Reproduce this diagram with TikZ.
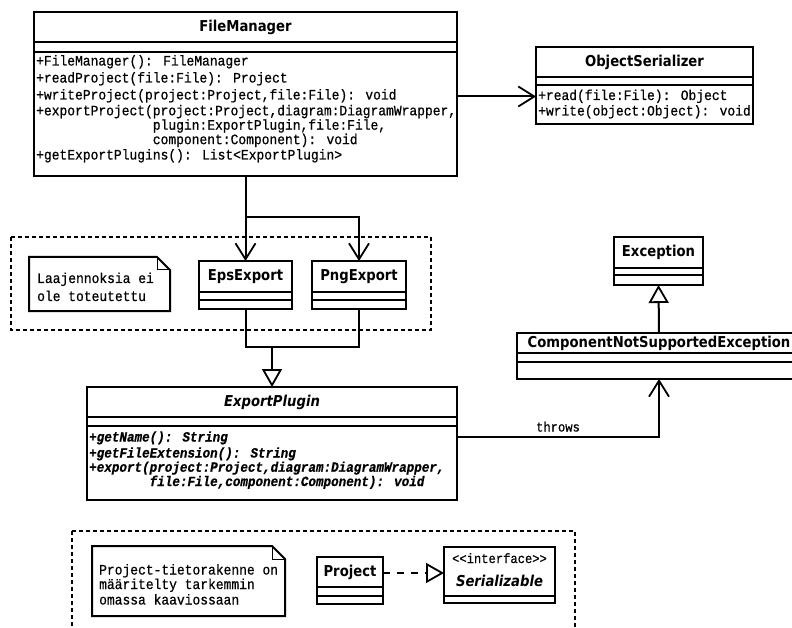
\documentclass[tikz,border=0pt]{standalone}
\usepackage{fontspec}
\setmainfont{DejaVu Sans}
\newfontfamily\titlefont[FakeStretch=0.88]{DejaVu Sans}
\newfontfamily\codefont[FakeStretch=0.9, FakeBold=0.6]{Liberation Mono}

\usetikzlibrary{arrows.meta,calc}

\tikzset{
  uml/.style={draw, line width=2pt, inner sep=0pt, outer sep=0pt, fill=white},
  sep/.style={line width=2pt},
  ctitle/.style={font=\titlefont\bfseries\fontsize{15}{18}\selectfont, inner sep=0pt},
  ititle/.style={font=\titlefont\bfseries\itshape\fontsize{15}{18}\selectfont, inner sep=0pt},
  member/.style={font=\codefont\fontsize{14.4}{17}\selectfont, anchor=west, inner sep=0pt,
                 text height=9pt, text depth=3pt},
  wrapped/.style={font=\codefont\fontsize{14.4}{12.5}\selectfont, anchor=west, inner sep=0pt,
                  align=left},
  imember/.style={member, font=\codefont\bfseries\itshape\fontsize{14}{17}\selectfont},
  iwrapped/.style={wrapped, font=\codefont\bfseries\itshape\fontsize{14}{12.5}\selectfont},
  stereo/.style={font=\codefont\fontsize{13.5}{16}\selectfont, inner sep=0pt,
                 text height=9pt, text depth=3pt},
  lbl/.style={font=\codefont\fontsize{13.5}{16}\selectfont, inner sep=0pt,
              text height=9pt, text depth=3pt},
  group/.style={line width=2pt, dash pattern=on 4pt off 3pt},
  notebox/.style={inner sep=0pt, outer sep=0pt, fill=white},
  noteline/.style={line width=2pt, line join=miter},
  foldline/.style={line width=1pt},
  conn/.style={line width=2pt},
  assoc/.style={conn, -{Straight Barb[length=16pt, width=20pt, line width=1.8pt]}},
  inherit/.style={conn, -{Triangle[open, length=18pt, width=20pt, line width=1.8pt]}},
  realize/.style={inherit, dash pattern=on 7pt off 7pt},
}

\begin{document}
\begin{tikzpicture}[x=1pt, y=-1pt]
\useasboundingbox (0,0) rectangle (792,628);
\fill[white] (0,0) rectangle (792,628);

% package frames
\draw[group] (11,237) rectangle (431,330);
\draw[group] (72,531) rectangle (575,660);

% FileManager
\node[uml, minimum width=423pt, minimum height=164pt] (fm) at (245.5,94) {};
\node[ctitle] (fmT) at (245.5,27) {FileManager};
\draw[sep] (fm.west |- 0,42) -- (fm.east |- 0,42);
\draw[sep] (fm.west |- 0,52) -- (fm.east |- 0,52);
\node[member] (fm1) at (36,62.5) {+FileManager(): FileManager};
\node[member] (fm2) at (36,79.5) {+readProject(file:File): Project};
\node[member] (fm3) at (36,96.5) {+writeProject(project:Project,file:File): void};
\node[wrapped] (fm4) at (36,126) {+exportProject(project:Project,diagram:DiagramWrapper,\\
  \phantom{+exportProject(}plugin:ExportPlugin,file:File,\\
  \phantom{+exportProject(}component:Component): void};
\node[member] (fm7) at (36,156.5) {+getExportPlugins(): List<ExportPlugin>};

% ObjectSerializer
\node[uml, minimum width=217pt, minimum height=77pt] (os) at (644.5,85.5) {};
\node[ctitle] (osT) at (644.5,62) {ObjectSerializer};
\draw[sep] (os.west |- 0,77) -- (os.east |- 0,77);
\draw[sep] (os.west |- 0,85) -- (os.east |- 0,85);
\node[member] (os1) at (538,97) {+read(file:File): Object};
\node[member] (os2) at (538,112.5) {+write(object:Object): void};

% exporters
\node[uml, minimum width=93pt, minimum height=48pt] (eps) at (245.5,285) {};
\node[ctitle] (epsT) at (245.5,276.5) {EpsExport};
\draw[sep] (eps.west |- 0,292) -- (eps.east |- 0,292);
\draw[sep] (eps.west |- 0,300) -- (eps.east |- 0,300);

\node[uml, minimum width=94pt, minimum height=48pt] (png) at (359,285) {};
\node[ctitle] (pngT) at (359,276.5) {PngExport};
\draw[sep] (png.west |- 0,292) -- (png.east |- 0,292);
\draw[sep] (png.west |- 0,300) -- (png.east |- 0,300);

% note on the exporters
\node[notebox, minimum width=141pt, minimum height=54pt] (n1) at (99.5,284) {};
\draw[noteline] (n1.north west) -- ([xshift=-13pt]n1.north east) -- ([yshift=-13pt]n1.north east)
  -- (n1.south east) -- (n1.south west) -- cycle;
\draw[foldline] ([xshift=-13pt]n1.north east) |- ([yshift=-13pt]n1.north east);
\node[member] (n1a) at (37,280) {Laajennoksia ei};
\node[member] (n1b) at (37,298) {ole toteutettu};

% ExportPlugin
\node[uml, minimum width=370pt, minimum height=113pt] (ep) at (272,443.5) {};
\node[ititle] (epT) at (272,402) {ExportPlugin};
\draw[sep] (ep.west |- 0,417) -- (ep.east |- 0,417);
\draw[sep] (ep.west |- 0,426) -- (ep.east |- 0,426);
\node[imember] (ep1) at (89,438.5) {+getName(): String};
\node[imember] (ep2) at (89,454.5) {+getFileExtension(): String};
\node[iwrapped] (ep3) at (89,475.25) {+export(project:Project,diagram:DiagramWrapper,\\
  \phantom{+export(}file:File,component:Component): void};

% exceptions
\node[uml, minimum width=89pt, minimum height=48pt] (exc) at (658.5,261) {};
\node[ctitle] (excT) at (658.5,252.5) {Exception};
\draw[sep] (exc.west |- 0,268) -- (exc.east |- 0,268);
\draw[sep] (exc.west |- 0,275) -- (exc.east |- 0,275);

\node[uml, minimum width=284pt, minimum height=46pt] (cnse) at (659,356) {};
\node[ctitle] (cnseT) at (659,343) {ComponentNotSupportedException};
\draw[sep] (cnse.west |- 0,353) -- (cnse.east |- 0,353);
\draw[sep] (cnse.west |- 0,362) -- (cnse.east |- 0,362);

% data model
\node[notebox, minimum width=193pt, minimum height=70pt] (n2) at (188.5,581) {};
\draw[noteline] (n2.north west) -- ([xshift=-13pt]n2.north east) -- ([yshift=-13pt]n2.north east)
  -- (n2.south east) -- (n2.south west) -- cycle;
\draw[foldline] ([xshift=-13pt]n2.north east) |- ([yshift=-13pt]n2.north east);
\node[member] (n2a) at (99,571.5) {Project-tietorakenne on};
\node[member] (n2b) at (99,586) {määritelty tarkemmin};
\node[member] (n2c) at (99,601.5) {omassa kaaviossaan};

\node[uml, minimum width=66pt, minimum height=47pt] (prj) at (350,580.5) {};
\node[ctitle] (prjT) at (350,572) {Project};
\draw[sep] (prj.west |- 0,587) -- (prj.east |- 0,587);
\draw[sep] (prj.west |- 0,596) -- (prj.east |- 0,596);

\node[uml, minimum width=111pt, minimum height=56pt] (ser) at (499.5,575) {};
\node[stereo] (serS) at (499.5,560) {\mbox{<}\mbox{<}interface\mbox{>}\mbox{>}};
\node[ititle] (serT) at (499.5,580.5) {Serializable};
\draw[sep] (ser.west |- 0,596) -- (ser.east |- 0,596);

% connectors
\coordinate (j1) at (245.5,217);
\coordinate (j2) at (272,347);
\draw[assoc] (fm.south) -- (eps.north);
\draw[assoc] (j1) -| (png.north);
\draw[assoc] ([yshift=-2.5pt]fm.east) -- ([yshift=-2.5pt]fm.east -| os.west);
\draw[conn] (eps.south) |- (j2) -| (png.south);
\draw[inherit] (j2) -- (ep.north);
\draw[inherit] (cnse.north) -- (exc.south);
\draw[assoc] ([yshift=6.5pt]ep.east) -| node[lbl, pos=0.25, above=1.5pt] (thr) {throws} (cnse.south);
\draw[realize] (prj.east |- 0,573) -- (ser.west |- 0,573);
\end{tikzpicture}
\end{document}
